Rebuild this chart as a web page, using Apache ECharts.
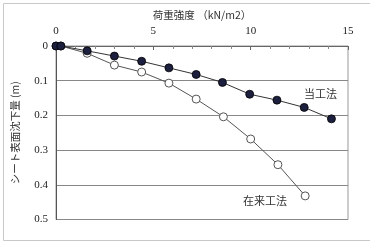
<!DOCTYPE html>
<html>
<head>
<meta charset="utf-8">
<script src="https://cdn.jsdelivr.net/npm/echarts@6/dist/echarts.min.js"></script>
<style>html,body{margin:0;padding:0;background:#fff}#c{width:370px;height:241px}</style>
</head>
<body>
<div id="c"></div>
<script>
var xName = '荷重強度 （kN/m2）';
var yName = 'シート表面沈下量 (m)';
var newName = '当工法';
var oldName = '在来工法';
var newX = [0, 0.25, 1.6, 3.0, 4.4, 5.8, 7.2, 8.55, 9.95, 11.35, 12.75, 14.15];
var newY = [0, 0, 0.014, 0.029, 0.044, 0.063, 0.082, 0.105, 0.139, 0.156, 0.177, 0.21];
var oldX = [0, 0.25, 1.6, 3.0, 4.4, 5.8, 7.2, 8.6, 10.0, 11.4, 12.8];
var oldY = [0, 0, 0.021, 0.055, 0.075, 0.107, 0.153, 0.204, 0.268, 0.342, 0.432];

function pairs(xs, ys) { return xs.map(function (x, i) { return [x, ys[i]]; }); }

var serif = '"Liberation Serif", "Times New Roman", serif';
var cjk = '"Noto Sans CJK JP", sans-serif';

var chart = echarts.init(document.getElementById('c'), null, {renderer: 'canvas'});
chart.setOption({
  animation: false,
  backgroundColor: '#fff',
  grid: {left: 56, top: 46, right: 22, bottom: 21.5, show: true, borderColor: '#999', borderWidth: 1, backgroundColor: 'transparent'},
  xAxis: {
    type: 'value', position: 'top', min: 0, max: 15, interval: 5,
    name: xName, nameLocation: 'middle', nameGap: 26,
    nameTextStyle: {fontFamily: cjk, fontSize: 10.5, color: '#333'},
    axisLine: {show: true, lineStyle: {color: '#666', width: 1}},
    axisTick: {show: true, inside: true, length: 4, lineStyle: {color: '#666'}},
    minorTick: {show: true, splitNumber: 5, length: 3, lineStyle: {color: '#888'}},
    axisLabel: {fontFamily: serif, fontSize: 11, color: '#222', margin: 9},
    splitLine: {show: false}
  },
  yAxis: {
    type: 'value', inverse: true, min: 0, max: 0.5, interval: 0.1,
    name: yName, nameLocation: 'middle', nameRotate: 90, nameGap: 36,
    nameTextStyle: {fontFamily: cjk, fontSize: 10.5, color: '#333'},
    axisLine: {show: true, lineStyle: {color: '#555', width: 1}},
    axisTick: {show: false},
    axisLabel: {fontFamily: serif, fontSize: 11, color: '#222', margin: 8},
    splitLine: {show: true, lineStyle: {color: '#888', width: 1}}
  },
  series: [
    {
      name: oldName, type: 'line', data: pairs(oldX, oldY), z: 2,
      symbol: 'circle', symbolSize: 8,
      lineStyle: {color: '#555', width: 1},
      itemStyle: {color: '#fff', borderColor: '#555', borderWidth: 1}
    },
    {
      name: newName, type: 'line', data: pairs(newX, newY), z: 3,
      symbol: 'circle', symbolSize: 8,
      lineStyle: {color: '#333', width: 1},
      itemStyle: {color: '#1c1f3d', borderColor: '#000', borderWidth: 0.8}
    }
  ],
  graphic: [
    {type: 'rect', left: 1, top: 1, shape: {width: 367, height: 237}, style: {fill: 'none', stroke: '#c8c8c8', lineWidth: 1}, z: -1, silent: true},
    {type: 'text', left: 304, top: 88, style: {text: newName, font: '11px ' + cjk, fill: '#333'}},
    {type: 'text', left: 243, top: 195, style: {text: oldName, font: '11px ' + cjk, fill: '#333'}}
  ]
});
</script>
</body>
</html>
